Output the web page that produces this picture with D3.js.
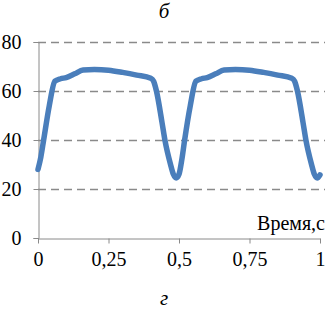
<!DOCTYPE html>
<html lang="ru">
<head>
  <meta charset="UTF-8">
  <title>б / г</title>
  <script src="https://d3js.org/d3.v7.min.js"></script>
  <style>
    body { margin: 0; padding: 0; background: #fff; }
    svg { display: block; }
    text { font-family: "Liberation Serif", "Times New Roman", serif; fill: #000; }
  </style>
</head>
<body>
  <svg width="325" height="309"></svg>
  <script>
    // время, с
    const times = [0, 0.01, 0.02, 0.04, 0.06, 0.08, 0.1, 0.13, 0.16, 0.2, 0.25, 0.3, 0.35, 0.4, 0.41, 0.42, 0.44, 0.45, 0.47, 0.48, 0.49, 0.5,
                   0.51, 0.52, 0.54, 0.56, 0.58, 0.6, 0.63, 0.66, 0.7, 0.75, 0.8, 0.85, 0.9, 0.91, 0.92, 0.94, 0.95, 0.97, 0.98, 0.99, 1.0];
    const values = [28, 33, 40, 54, 64, 65, 65.5, 67, 68.6, 68.8, 68.5, 67.6, 66.5, 65.2, 64, 60, 47, 40, 30, 26, 24.5, 26,
                    32, 40, 54, 64, 65, 65.5, 67, 68.6, 68.8, 68.5, 67.6, 66.5, 65.2, 64, 60, 47, 40, 30, 26, 24.5, 25.8];
    const xTicks = [0, 0.25, 0.5, 0.75, 1];
    const yTicks = [0, 20, 40, 60, 80];

    const svg = d3.select("svg");
    const x = d3.scaleLinear().domain([0, 1]).range([38, 320]);
    const y = d3.scaleLinear().domain([0, 80]).range([238, 42]);
    const fmt = d => String(d).replace(".", ",");

    // сетка
    svg.append("g")
      .selectAll("line")
      .data(yTicks.filter(d => d > 0))
      .join("line")
      .attr("x1", 38).attr("x2", 325)
      .attr("y1", d => y(d) + 0.5).attr("y2", d => y(d) + 0.5)
      .attr("stroke", "#8a8a8a")
      .attr("stroke-width", 1.3)
      .attr("stroke-dasharray", "8,5");

    // ось Y
    const yAxis = svg.append("g")
      .attr("transform", "translate(38.5,0)")
      .call(d3.axisLeft(y).tickValues(yTicks).tickSize(5).tickPadding(12));
    yAxis.select(".domain").attr("stroke", "#8a8a8a");
    yAxis.selectAll(".tick line").attr("stroke", "#8a8a8a");
    yAxis.selectAll("text").style("font-size", "20px").attr("fill", "#000");

    // ось X
    const xAxis = svg.append("g")
      .attr("transform", "translate(0,238.5)")
      .call(d3.axisBottom(x).tickValues(xTicks).tickSize(5).tickSizeOuter(0).tickPadding(8).tickFormat(fmt));
    xAxis.select(".domain").attr("stroke", "#8a8a8a");
    xAxis.selectAll(".tick line").attr("stroke", "#8a8a8a");
    xAxis.selectAll("text").style("font-size", "20px").attr("fill", "#000");

    // кривая
    const line = d3.line()
      .x((d, i) => x(times[i]))
      .y(d => y(d))
      .curve(d3.curveMonotoneX);

    svg.append("path")
      .datum(values)
      .attr("d", line)
      .attr("fill", "none")
      .attr("stroke", "#4a7ebb")
      .attr("stroke-width", 5.5)
      .attr("stroke-linejoin", "round")
      .attr("stroke-linecap", "round");

    svg.append("text")
      .attr("x", 325).attr("y", 230)
      .attr("text-anchor", "end")
      .style("font-size", "20px")
      .text("Время,с");

    svg.append("text")
      .attr("x", 164).attr("y", 18)
      .attr("text-anchor", "middle")
      .style("font-size", "21px")
      .style("font-style", "italic")
      .text("б");

    svg.append("text")
      .attr("x", 164).attr("y", 305)
      .attr("text-anchor", "middle")
      .style("font-size", "21px")
      .style("font-style", "italic")
      .text("г");
  </script>
</body>
</html>
